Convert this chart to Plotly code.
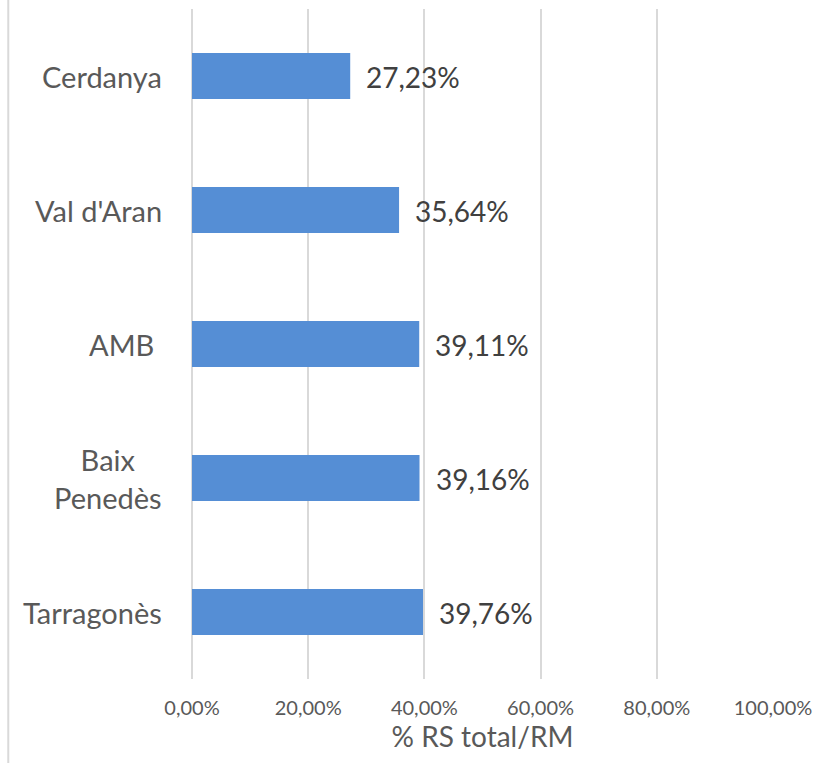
import plotly.graph_objects as go

categories = ["Cerdanya", "Val d'Aran", "AMB\u00a0", "Baix<br>Penedès", "Tarragonès"]
values = [27.23, 35.64, 39.11, 39.16, 39.76]
value_labels = ["27,23%", "35,64%", "39,11%", "39,16%", "39,76%"]
tick_vals = [0, 20, 40, 60, 80, 100]
tick_text = ["0,00%", "20,00%", "40,00%", "60,00%", "80,00%", "100,00%"]
x_title = "% RS total/RM"

FONT = "Lato"
W, H = 821, 763
ML, MR, MT, MB = 192, 44, 9, 84

fig = go.Figure()
fig.add_trace(go.Bar(
    x=values, y=categories, orientation="h",
    marker=dict(color="#558ed5", line=dict(width=0)),
    width=0.345, hoverinfo="skip",
))

annotations = []
for c in categories:
    annotations.append(dict(
        x=0, xref="paper", y=c, yref="y", text=c, showarrow=False,
        xanchor="right", align="center", xshift=-28, yshift=0,
        font=dict(family=FONT, size=29, color="#595959"),
    ))
for c, v, t in zip(categories, values, value_labels):
    annotations.append(dict(
        x=v, xref="x", y=c, yref="y", text=t, showarrow=False,
        xanchor="left", xshift=14, yshift=-1,
        font=dict(family=FONT, size=28, color="#404040"),
    ))

pw = W - ML - MR
ph = H - MT - MB
fig.update_layout(
    width=W, height=H,
    margin=dict(l=ML, r=MR, t=MT, b=MB, pad=0),
    paper_bgcolor="white", plot_bgcolor="white",
    showlegend=False,
    annotations=annotations,
    xaxis=dict(
        range=[0, 100], tickvals=tick_vals, ticktext=tick_text,
        showgrid=True, gridcolor="#d9d9d9", gridwidth=2,
        zeroline=True, zerolinecolor="#d9d9d9", zerolinewidth=2,
        showline=False, ticks="", ticklabelstandoff=15,
        tickfont=dict(family=FONT, size=20, color="#595959"),
        title=dict(text=x_title, standoff=0,
                   font=dict(family=FONT, size=28, color="#595959")),
        fixedrange=True,
    ),
    yaxis=dict(
        categoryorder="array", categoryarray=categories,
        autorange="reversed", showticklabels=False, showgrid=False,
        zeroline=False, showline=False, ticks="", fixedrange=True,
    ),
    shapes=[dict(
        type="line", xref="paper", yref="paper",
        x0=(7 - ML) / pw, x1=(7 - ML) / pw,
        y0=-(MB) / ph, y1=(ph + MT) / ph,
        line=dict(color="#d9d9d9", width=2),
    )],
)

fig.write_html(
    "out.html",
    config={"displayModeBar": False},
    post_script="document.body.style.margin='0';document.body.style.overflow='hidden';",
)
